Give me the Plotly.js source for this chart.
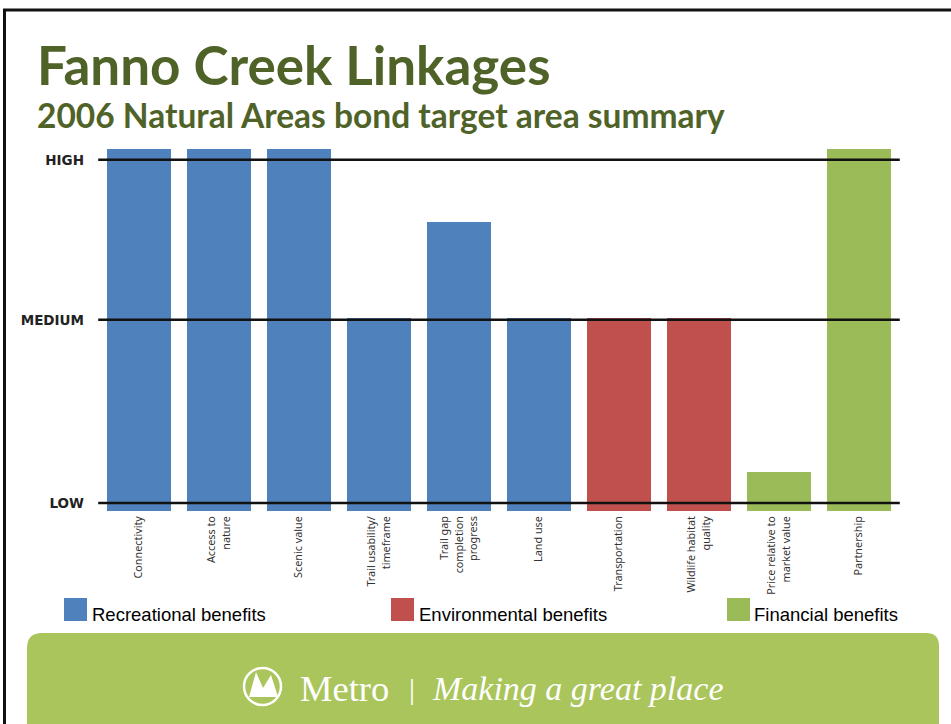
<!DOCTYPE html>
<html>
<head>
<meta charset="utf-8">
<script src="https://cdn.plot.ly/plotly-3.0.1.min.js"></script>
<style>html,body{margin:0;padding:0;background:#fff;}#chart{width:951px;height:724px;}</style>
</head>
<body>
<div id="chart"></div>
<script>
// ---- data ----
const categories = ['Connectivity','Access to<br>nature','Scenic value','Trail usability/<br>timeframe','Trail gap<br>completion<br>progress','Land use','Transportation','Wildlife habitat<br>quality','Price relative to<br>market value','Partnership'];
const recreationalCats = ['Connectivity','Access to<br>nature','Scenic value','Trail usability/<br>timeframe','Trail gap<br>completion<br>progress','Land use'];
const recreationalValues = [10, 10, 10, 5.33, 7.98, 5.33];
const environmentalCats = ['Transportation','Wildlife habitat<br>quality'];
const environmentalValues = [5.33, 5.33];
const financialCats = ['Price relative to<br>market value','Partnership'];
const financialValues = [1.08, 10];
const levelValues = [0.22, 5.28, 9.70];
const levelLabels = ['LOW','MEDIUM','HIGH'];
const seriesNames = ['Recreational benefits','Environmental benefits','Financial benefits'];
const seriesColors = ['#4F81BD','#C0504D','#9BBB59'];
const titleText = 'Fanno Creek Linkages';
const subtitleText = '2006 Natural Areas bond target area summary';

// ---- layout helpers (pixel -> paper) ----
const L = 99, R = 899, T = 149, B = 511;
const px = x => (x - L) / (R - L);
const py = y => (B - y) / (B - T);

const traces = [
  {type:'bar', x:recreationalCats, y:recreationalValues, name:seriesNames[0], marker:{color:seriesColors[0]}, showlegend:false, hoverinfo:'skip'},
  {type:'bar', x:environmentalCats, y:environmentalValues, name:seriesNames[1], marker:{color:seriesColors[1]}, showlegend:false, hoverinfo:'skip'},
  {type:'bar', x:financialCats, y:financialValues, name:seriesNames[2], marker:{color:seriesColors[2]}, showlegend:false, hoverinfo:'skip'}
];

const shapes = [];
// level lines over bars
levelValues.forEach(v => shapes.push({type:'line', xref:'paper', yref:'y', x0:-0.001, x1:1.001, y0:v, y1:v, line:{color:'#111', width:2.5}, layer:'above'}));
// slide frame
shapes.push({type:'line', xref:'paper', yref:'paper', x0:px(3), x1:px(951), y0:py(10), y1:py(10), line:{color:'#111', width:3}});
shapes.push({type:'line', xref:'paper', yref:'paper', x0:px(4.5), x1:px(4.5), y0:py(9), y1:py(724), line:{color:'#111', width:3}});
// footer band
const fp = (x,y) => px(x).toFixed(5) + ',' + py(y).toFixed(5);
shapes.push({type:'path', xref:'paper', yref:'paper', layer:'below',
  path:'M' + fp(27,730) + ' L' + fp(27,648) + ' Q' + fp(27,633) + ' ' + fp(42,633) + ' L' + fp(926,633) + ' Q' + fp(939,633) + ' ' + fp(939,646) + ' L' + fp(939,730) + ' Z',
  fillcolor:'#AAC55C', line:{width:0}});
// logo
shapes.push({type:'circle', xref:'paper', yref:'paper', x0:px(244), x1:px(281), y0:py(668), y1:py(705), line:{color:'#fff', width:2.5}, fillcolor:'rgba(0,0,0,0)'});
shapes.push({type:'path', xref:'paper', yref:'paper', path:'M' + fp(249,697) + ' L' + fp(256,672) + ' L' + fp(263,688) + ' L' + fp(271,675) + ' L' + fp(278,697) + ' Z', fillcolor:'#fff', line:{width:0}});
// legend swatches
const swatchX = [64, 391, 727];
const labelX = [90, 417, 752];
swatchX.forEach((x,i) => shapes.push({type:'rect', xref:'paper', yref:'paper', x0:px(x), x1:px(x+23), y0:py(598), y1:py(621), fillcolor:seriesColors[i], line:{width:0}}));

const annotations = [];
seriesNames.forEach((n,i) => annotations.push({xref:'paper', yref:'paper', x:px(labelX[i]), y:py(614), xanchor:'left', yanchor:'middle', text:n, showarrow:false, font:{family:'Liberation Sans, Arial', size:18.5, color:'#000'}}));
annotations.push({xref:'paper', yref:'paper', x:px(35), y:py(64), xanchor:'left', yanchor:'middle', text:'<b>' + titleText + '</b>', showarrow:false, font:{family:'Lato', size:53, color:'#4F6228'}});
annotations.push({xref:'paper', yref:'paper', x:px(35), y:py(115), xanchor:'left', yanchor:'middle', text:'<b>' + subtitleText + '</b>', showarrow:false, font:{family:'Lato', size:33.5, color:'#4F6228'}});
annotations.push({xref:'paper', yref:'paper', x:px(298), y:py(688), xanchor:'left', yanchor:'middle', text:'Metro', showarrow:false, font:{family:'Liberation Serif', size:36.5, color:'#fff'}});
annotations.push({xref:'paper', yref:'paper', x:px(412), y:py(688), xanchor:'center', yanchor:'middle', text:'|', showarrow:false, font:{family:'Liberation Serif', size:30, color:'#fff'}});
annotations.push({xref:'paper', yref:'paper', x:px(430), y:py(688), xanchor:'left', yanchor:'middle', text:'<i>Making a great place</i>', showarrow:false, font:{family:'Liberation Serif', size:34, color:'#fff'}});

const layout = {
  width:951, height:724, autosize:false,
  margin:{l:L, r:951-R, t:T, b:724-B, pad:0},
  paper_bgcolor:'#fff', plot_bgcolor:'#fff',
  barmode:'overlay', bargap:0.2,
  showlegend:false,
  xaxis:{type:'category', categoryorder:'array', categoryarray:categories, tickangle:-90, ticks:'', showgrid:false, zeroline:false, showline:false,
         tickfont:{family:'Noto Sans', size:10.8, color:'#333'}, ticklabelstandoff:2, fixedrange:true},
  yaxis:{range:[0,10], tickmode:'array', tickvals:levelValues, ticktext:levelLabels, showgrid:false, zeroline:false, showline:false, ticks:'',
         tickfont:{family:'DejaVu Sans', size:13.5, color:'#222', weight:'bold'}, ticklabelstandoff:14, fixedrange:true},
  shapes:shapes, annotations:annotations
};
Plotly.newPlot('chart', traces, layout, {displayModeBar:false, staticPlot:true});
</script>
</body>
</html>
